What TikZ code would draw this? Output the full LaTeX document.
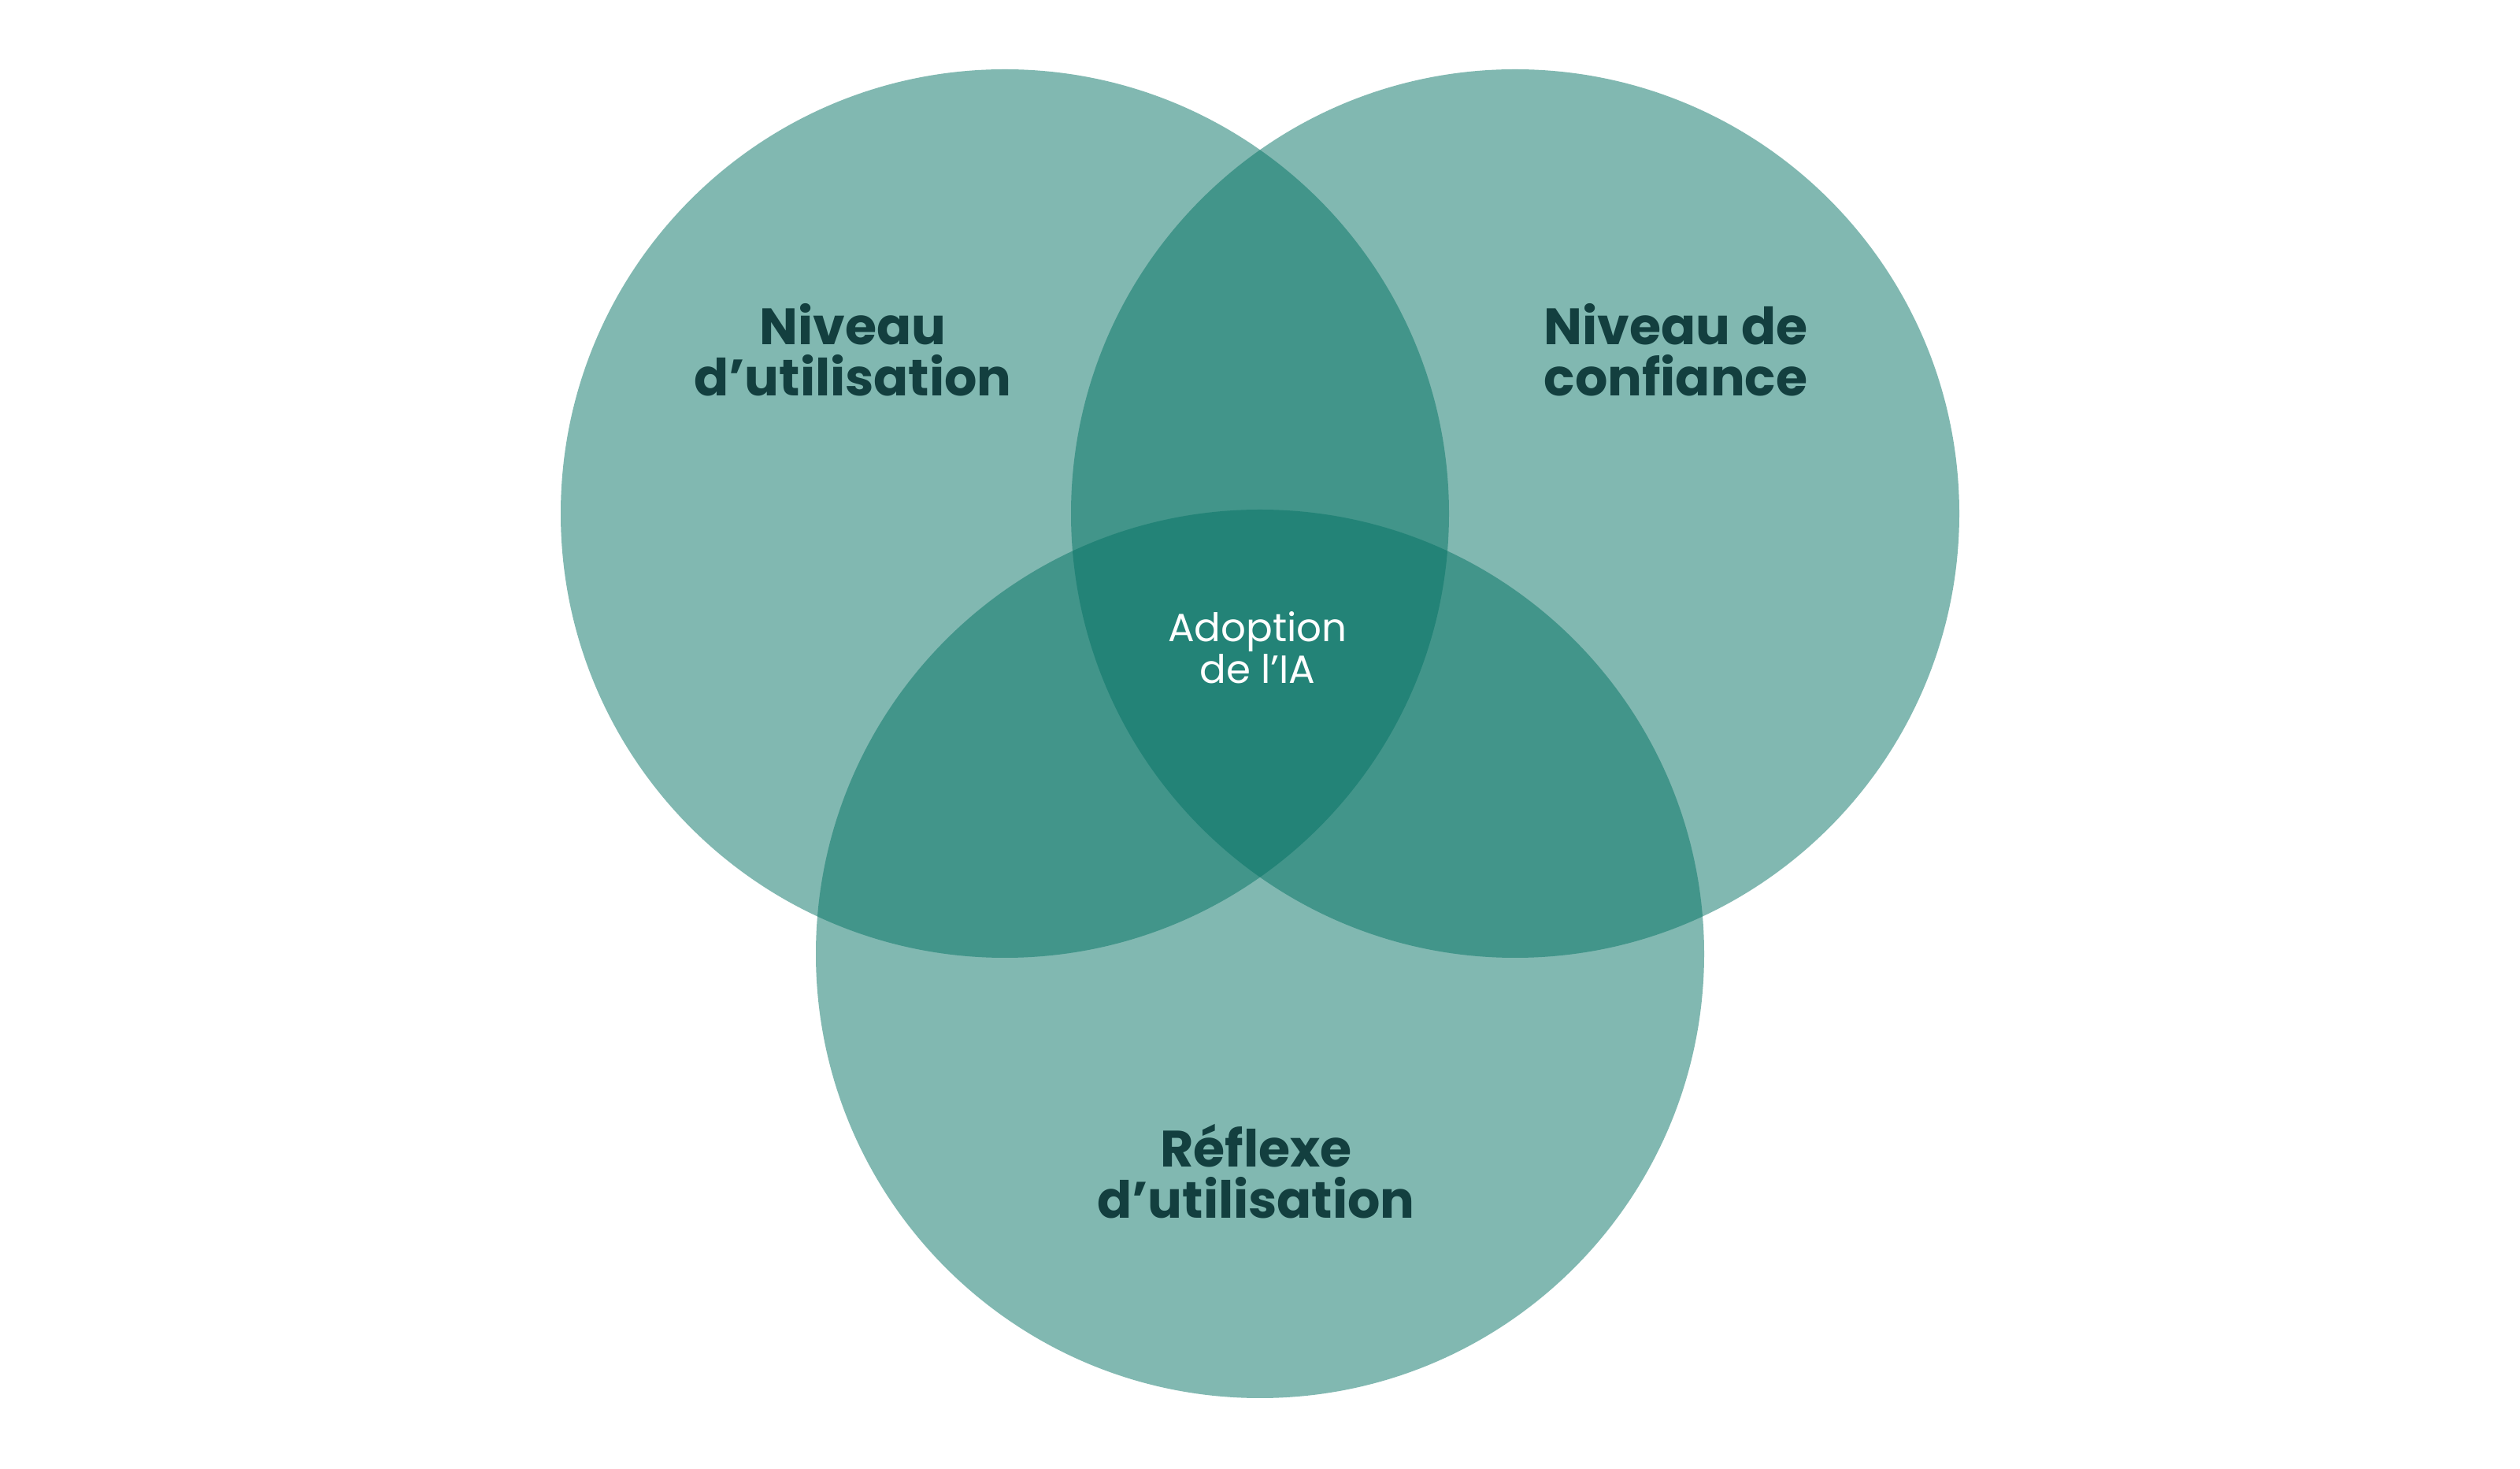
\documentclass[tikz,border=0pt]{standalone}
\usepackage{fontspec}
\setmainfont{Poppins}
\usepackage{tikz}
\usetikzlibrary{calc, positioning}

\definecolor{setfill}{HTML}{057365}
\definecolor{labeltext}{HTML}{133F3F}

\begin{document}
\begin{tikzpicture}[
    set/.style={draw=none, circle, inner sep=0pt, outer sep=0pt, minimum size=11.28cm, fill=setfill, fill opacity=.5},
    setlabel/.style={anchor=base, align=center, text=labeltext, font=\fontsize{18.5}{18.6}\selectfont\bfseries},
    corelabel/.style={anchor=base, align=center, text=white, font=\fontsize{14.2}{15.1}\selectfont}
  ]
          \fill [white] (0, 0) rectangle (32, 18.64);
          \useasboundingbox (0, 0) rectangle (32, 18.64);

          \node [set] (U) at (12.76, 12.12) {};
          \node [set] (C) at (19.24, 12.12) {};
          \node [set] (R) at (16.00, 6.53) {};

          \node [setlabel] (Ulabel) at (10.83, 13.61) {Niveau\\d’utilisation};
          \node [setlabel] (Clabel) at (21.28, 13.61) {Niveau de\\confiance};
          \node [setlabel] (Rlabel) at (15.95, 3.17) {Réflexe\\d’utilisation};
          \node [corelabel] (core) at (15.97, 9.96) {Adoption\\de l’IA};

      \end{tikzpicture}
\end{document}
